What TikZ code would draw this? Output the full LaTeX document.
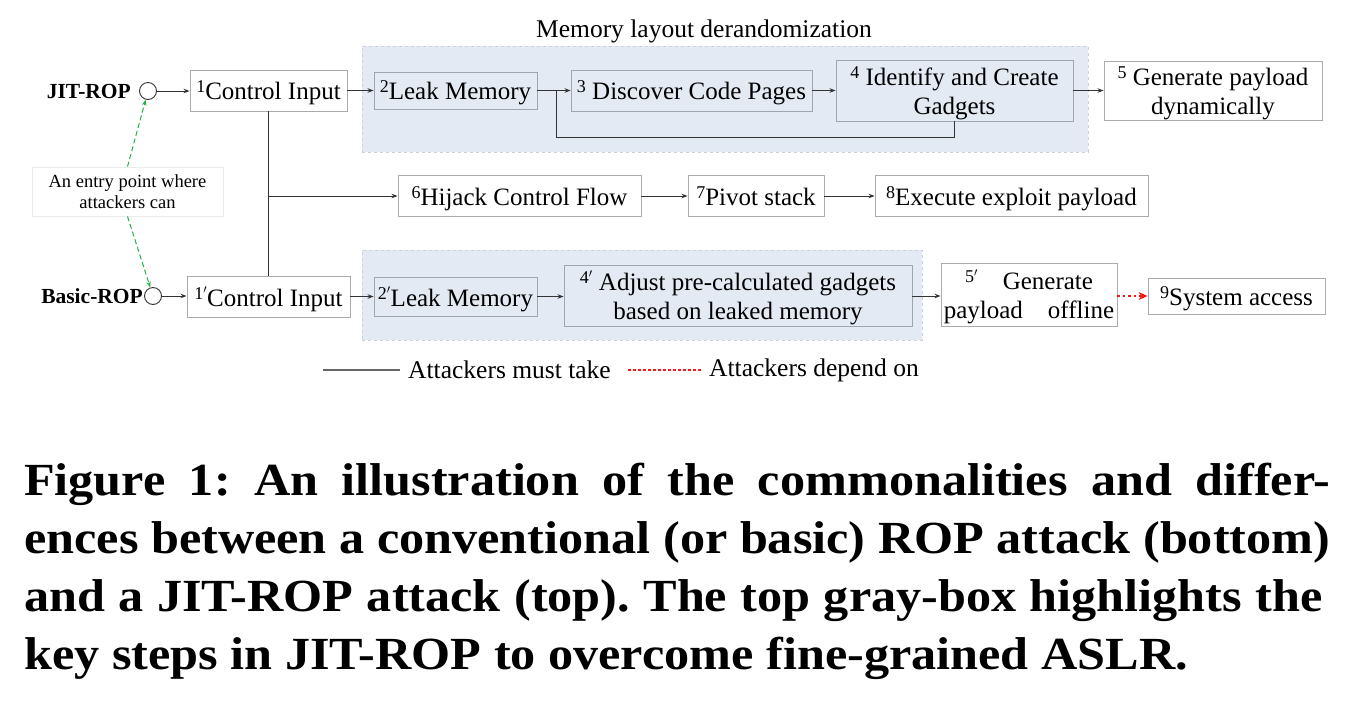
\documentclass[tikz,border=0pt]{standalone}
\usepackage{fontspec}
\usepackage{graphicx}
\setmainfont{Liberation Serif}
\usetikzlibrary{arrows.meta}
\newcommand\stepno[1]{\raisebox{7pt}{\fontsize{18}{18}\selectfont #1}}
\newcommand\capline[2]{\scalebox{1.092}[1]{\makebox[#1][s]{#2}}}
\definecolor{boxline}{HTML}{ABABAB}
\definecolor{inboxline}{HTML}{9FA6B2}
\definecolor{regfill}{HTML}{E4EAF4}
\definecolor{regline}{HTML}{CDD2DA}
\definecolor{connc}{HTML}{333333}
\definecolor{entrygreen}{HTML}{22B04B}
\definecolor{depred}{HTML}{F01818}
\begin{document}
\frenchspacing
\begin{tikzpicture}[x=1pt,y=-1pt,
  stepbox/.style={draw=boxline, line width=0.9pt, fill=white, inner sep=0pt, align=center, text depth=0pt, font=\fontsize{25}{29}\selectfont},
  inbox/.style={stepbox, draw=inboxline, fill=regfill},
  region/.style={fill=regfill, draw=regline, dashed, line width=0.6pt, inner sep=0pt},
  conn/.style={draw=connc, line width=1pt},
  arr/.style={conn, -{Stealth[length=6pt,width=4.5pt]}},
  depend/.style={draw=depred, line width=2.4pt, dash pattern=on 2.4pt off 3pt, -{Stealth[length=9pt,width=8pt]}},
  entry/.style={draw=entrygreen, line width=1pt, dash pattern=on 5pt off 3pt, -{Stealth[length=6pt,width=4.5pt]}},
  entrypt/.style={circle, draw=connc, line width=0.9pt, fill=white, minimum size=17pt, inner sep=0pt},
  lbl/.style={font=\bfseries\fontsize{21.5}{24}\selectfont, inner sep=0pt},
  legtext/.style={anchor=west, inner sep=0pt, font=\fontsize{25.5}{29}\selectfont},
  captext/.style={anchor=base west, inner sep=0pt, font=\bfseries\fontsize{46}{54}\selectfont}
]
\useasboundingbox (0,0) rectangle (1350,716);

% regions
\node[region, minimum width=726, minimum height=106] (topreg) at (725,99) {};
\node[region, minimum width=560, minimum height=90] (botreg) at (642,295) {};
\node[inner sep=0pt, font=\fontsize{25.5}{29}\selectfont] (memtitle) at (704,31) {Memory layout derandomization};

% top row
\node[lbl, anchor=east] (jitlbl) at (131,91) {JIT-ROP};
\node[entrypt] (jit) at (148,91) {};
\node[stepbox, minimum width=157, minimum height=41] (c1) at (268.5,90.5) {\stepno{1}Control Input};
\node[inbox, minimum width=163, minimum height=37] (l2) at (455.5,90.5) {\stepno{2}Leak Memory};
\node[inbox, minimum width=241, minimum height=41] (d3) at (691.5,90.5) {\stepno{3} Discover Code Pages};
\node[inbox, minimum width=237, minimum height=61] (g4) at (954.5,90.5) {\stepno{4} Identify and Create\\Gadgets};
\node[stepbox, minimum width=218, minimum height=59] (p5) at (1213,90.5) {\stepno{5} Generate payload\\dynamically};

% middle row
\node[stepbox, minimum width=243, minimum height=41] (h6) at (519.5,196) {\stepno{6}Hijack Control Flow};
\node[stepbox, minimum width=136, minimum height=41] (v7) at (756,196) {\stepno{7}Pivot stack};
\node[stepbox, minimum width=273, minimum height=41] (e8) at (1011.5,196) {\stepno{8}Execute exploit payload};

% bottom row
\node[lbl, anchor=east] (basiclbl) at (143,296) {Basic-ROP};
\node[entrypt] (basic) at (153,296) {};
\node[stepbox, minimum width=163, minimum height=41] (c1b) at (268.5,296.5) {\stepno{1$'$}Control Input};
\node[inbox, minimum width=163, minimum height=39] (l2b) at (455.5,296.5) {\stepno{2$'$}Leak Memory};
\node[inbox, minimum width=348, minimum height=61] (a4b) at (738,295.5) {\stepno{4$'$} Adjust pre-calculated gadgets\\based on leaked memory};
\node[stepbox, minimum width=176, minimum height=63] (g5b) at (1029,294.5) {\stepno{5$'$}\quad Generate\\payload\quad offline};
\node[stepbox, minimum width=177, minimum height=36] (s9) at (1236.5,296) {\stepno{9}System access};

% entry point label
\node[draw=black!8, fill=white, line width=0.8pt, minimum width=191, minimum height=49, inner sep=0pt, align=center, font=\fontsize{18.5}{21}\selectfont] (entrylbl) at (127.5,191.5) {An entry point where\\attackers can};

% connectors
\draw[arr] (jit.east) -- (jit.east -| c1.west);
\draw[arr] (c1) -- (l2);
\coordinate (fb) at (556,90.5);
\coordinate (fbb) at (556,137);
\draw[conn] (l2.east) -- (fb);
\draw[arr] (fb) -- (d3.west);
\draw[arr] (d3) -- (g4);
\draw[conn] (g4.south) |- (fbb) -- (fb);
\draw[arr] (g4) -- (p5);

\draw[conn] (c1.south) -- (c1b.north);
\draw[arr] (c1.south |- h6.west) -- (h6.west);
\draw[arr] (h6) -- (v7);
\draw[arr] (v7) -- (e8);

\draw[arr] (basic.east) -- (basic.east -| c1b.west);
\draw[arr] (c1b) -- (l2b);
\draw[arr] (l2b.east) -- (l2b.east -| a4b.west);
\draw[arr] (a4b.east |- s9.west) -- (s9.west -| g5b.west);
\draw[depend] (g5b.east |- s9.west) -- (s9.west);

\draw[entry] (entrylbl.north) -- (jit);
\draw[entry] (entrylbl.south) -- (basic);

% legend
\coordinate (lga) at (323,370);
\coordinate (lgb) at (400,370);
\coordinate (lgc) at (628,370);
\coordinate (lgd) at (702,370);
\draw[draw=black!60, line width=1.2pt] (lga) -- (lgb);
\node[legtext] (lgt1) at (408,370) {Attackers must take};
\draw[draw=depred, line width=2.6pt, dash pattern=on 2.6pt off 2.4pt] (lgc) -- (lgd);
\node[legtext] (lgt2) at (709,370) {Attackers depend on};

% caption
\node[captext] (cap1) at (24,495) {\capline{1196pt}{Figure 1: An illustration of the commonalities and differ-}};
\node[captext] (cap2) at (24,553) {\capline{1196pt}{ences between a conventional (or basic) ROP attack (bottom)}};
\node[captext] (cap3) at (24,611) {\capline{1189pt}{and a JIT-ROP attack (top). The top gray-box highlights the}};
\node[captext] (cap4) at (24,669) {\scalebox{1.092}[1]{key steps in JIT-ROP to overcome fine-grained ASLR.}};
\end{tikzpicture}
\end{document}
